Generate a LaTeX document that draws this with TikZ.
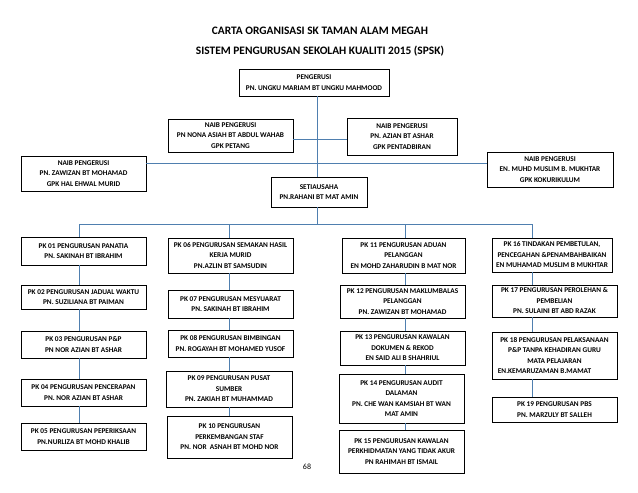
\documentclass[tikz,border=0pt]{standalone}
\usepackage{fontspec}
\setmainfont{Carlito}
\definecolor{lineblue}{HTML}{4F7FAF}
\begin{document}
\begin{tikzpicture}[x=1pt,y=-1pt,
  bx/.style={draw=black, line width=0.9pt, inner sep=0pt, align=center,
    font=\fontsize{7.3}{10.5}\selectfont\bfseries},
  conn/.style={draw=lineblue, line width=0.9pt},
  ttl/.style={inner sep=0pt, font=\fontsize{11.4}{13}\selectfont\bfseries}]
\useasboundingbox[fill=white] (0,0) rectangle (638,493);

% titles
\node[ttl] (t1) at (320,31) {CARTA ORGANISASI SK TAMAN ALAM MEGAH};
\node[ttl] (t2) at (320,51) {SISTEM PENGURUSAN SEKOLAH KUALITI 2015 (SPSK)};

% top level
\node[bx, minimum width=150pt, minimum height=27pt] (peng) at (314,82.5) {PENGERUSI\\PN. UNGKU MARIAM BT UNGKU MAHMOOD};
\node[bx, minimum width=125pt, minimum height=33pt] (nona) at (230.5,135.5) {NAIB PENGERUSI\\PN NONA ASIAH BT ABDUL WAHAB\\GPK PETANG};
\node[bx, minimum width=110pt, minimum height=37pt] (azian) at (402,136.5) {NAIB PENGERUSI\\PN. AZIAN BT ASHAR\\GPK PENTADBIRAN};
\node[bx, minimum width=125pt, minimum height=35pt] (zaw) at (83.5,173.5) {NAIB PENGERUSI\\PN. ZAWIZAN BT MOHAMAD\\GPK HAL EHWAL MURID};
\node[bx, minimum width=126pt, minimum height=35pt] (muslim) at (550,169.5) {NAIB PENGERUSI\\EN. MUHD MUSLIM B. MUKHTAR\\GPK KOKURIKULUM};
\node[bx, minimum width=96pt, minimum height=30pt] (setia) at (319,192) {SETIAUSAHA\\PN.RAHANI BT MAT AMIN};

% column 1
\node[bx, minimum width=125pt, minimum height=28pt] (pk01) at (83.5,251) {PK 01 PENGURUSAN PANATIA\\PN. SAKINAH BT IBRAHIM};
\node[bx, minimum width=125pt, minimum height=24pt] (pk02) at (83.5,297) {PK 02 PENGURUSAN JADUAL WAKTU\\PN. SUZILIANA BT PAIMAN};
\node[bx, minimum width=125pt, minimum height=27pt] (pk03) at (83.5,344.5) {PK 03 PENGURUSAN P\&P\\PN NOR AZIAN BT ASHAR};
\node[bx, minimum width=125pt, minimum height=27pt] (pk04) at (83.5,392.5) {PK 04 PENGURUSAN PENCERAPAN\\PN. NOR AZIAN BT ASHAR};
\node[bx, minimum width=125pt, minimum height=27pt] (pk05) at (83.5,436.5) {PK 05 PENGURUSAN PEPERIKSAAN\\PN.NURLIZA BT MOHD KHALIB};

% column 2
\node[bx, minimum width=125pt, minimum height=35pt] (pk06) at (230.5,255.5) {PK 06 PENGURUSAN SEMAKAN HASIL\\KERJA MURID\\PN.AZLIN BT SAMSUDIN};
\node[bx, minimum width=125pt, minimum height=28pt] (pk07) at (230.5,304) {PK 07 PENGURUSAN MESYUARAT\\PN. SAKINAH BT IBRAHIM};
\node[bx, minimum width=125pt, minimum height=27pt] (pk08) at (230.5,343.5) {PK 08 PENGURUSAN BIMBINGAN\\PN. ROGAYAH BT MOHAMED YUSOF};
\node[bx, minimum width=126pt, minimum height=36pt] (pk09) at (229,389) {PK 09 PENGURUSAN PUSAT\\SUMBER\\PN. ZAKIAH BT MUHAMMAD};
\node[bx, minimum width=125pt, minimum height=42pt] (pk10) at (229.5,437) {PK 10 PENGURUSAN\\PERKEMBANGAN STAF\\PN. NOR\ \ ASNAH BT MOHD NOR};

% column 3
\node[bx, minimum width=123pt, minimum height=35pt] (pk11) at (403.5,255.5) {PK 11 PENGURUSAN ADUAN\\PELANGGAN\\EN MOHD ZAHARUDIN B MAT NOR};
\node[bx, minimum width=125pt, minimum height=33pt] (pk12) at (402.5,301.5) {PK 12 PENGURUSAN MAKLUMBALAS\\PELANGGAN\\PN. ZAWIZAN BT MOHAMAD};
\node[bx, minimum width=125pt, minimum height=34pt] (pk13) at (402.5,348) {PK 13 PENGURUSAN KAWALAN\\DOKUMEN \& REKOD\\EN SAID ALI B SHAHRIUL};
\node[bx, minimum width=125pt, minimum height=49pt] (pk14) at (401.5,398.5) {PK 14 PENGURUSAN AUDIT\\DALAMAN\\PN. CHE WAN KAMSIAH BT WAN\\MAT AMIN};
\node[bx, minimum width=125pt, minimum height=43pt] (pk15) at (401.5,451.5) {PK 15 PENGURUSAN KAWALAN\\PERKHIDMATAN YANG TIDAK AKUR\\PN RAHIMAH BT ISMAIL};

% column 4
\node[bx, minimum width=120pt, minimum height=34pt] (pk16) at (552,255) {PK 16 TINDAKAN PEMBETULAN,\\PENCEGAHAN \&PENAMBAHBAIKAN\\EN MUHAMAD MUSLIM B MUKHTAR};
\node[bx, minimum width=125pt, minimum height=32pt] (pk17) at (554.5,301) {PK 17 PENGURUSAN PEROLEHAN \&\\PEMBELIAN\\PN. SULAINI BT ABD RAZAK};
\node[bx, minimum width=125pt, minimum height=47pt] (pk18) at (554.5,355.5) {PK 18 PENGURUSAN PELAKSANAAN\\P\&P TANPA KEHADIRAN GURU\\MATA PELAJARAN\\EN.KEMARUZAMAN B.MAMAT\hspace*{20pt}};
\node[bx, minimum width=125pt, minimum height=25pt] (pk19) at (554.5,409.5) {PK 19 PENGURUSAN PBS\\PN. MARZULY BT SALLEH};

\node[inner sep=0pt, font=\fontsize{8}{9}\selectfont] (pg) at (307,467) {68};

% guide coordinates
\coordinate (spine) at (317,0);
\coordinate (r1) at (0,139);
\coordinate (r2) at (0,163);
\coordinate (bus) at (0,224);
\coordinate (c1) at (79,0);
\coordinate (c2) at (229,0);
\coordinate (c3) at (405,0);
\coordinate (c4) at (532,0);

% connectors
\draw[conn] (peng.south -| spine) -- (setia.north -| spine);
\draw[conn] (nona.east |- r1) -- (azian.west |- r1);
\draw[conn] (zaw.east |- r2) -- (muslim.west |- r2);
\draw[conn] (setia.south -| spine) -- (bus -| spine);
\draw[conn] (bus -| c1) -- (bus -| c4);
\draw[conn] (bus -| c1) -- (pk01.north -| c1);
\draw[conn] (bus -| c2) -- (pk06.north -| c2);
\draw[conn] (bus -| c3) -- (pk11.north -| c3);
\draw[conn] (bus -| c4) -- (pk16.north -| c4);

\draw[conn] (pk01.south -| c1) -- (pk02.north -| c1);
\draw[conn] (pk02.south -| c1) -- (pk03.north -| c1);
\draw[conn] (pk03.south -| c1) -- (pk04.north -| c1);
\draw[conn] (pk04.south -| c1) -- (pk05.north -| c1);

\draw[conn] (pk06.south -| c2) -- (pk07.north -| c2);
\draw[conn] (pk07.south -| c2) -- (pk08.north -| c2);
\draw[conn] (pk08.south -| c2) -- (pk09.north -| c2);
\draw[conn] (pk09.south -| c2) -- (pk10.north -| c2);

\draw[conn] (pk11.south -| c3) -- (pk12.north -| c3);
\draw[conn] (pk12.south -| c3) -- (pk13.north -| c3);
\draw[conn] (pk13.south -| c3) -- (pk14.north -| c3);
\draw[conn] (pk14.south -| c3) -- (pk15.north -| c3);

\draw[conn] (pk16.south -| c4) -- (pk17.north -| c4);
\draw[conn] (pk17.south -| c4) -- (pk18.north -| c4);
\draw[conn] (pk18.south -| c4) -- (pk19.north -| c4);
\end{tikzpicture}
\end{document}
